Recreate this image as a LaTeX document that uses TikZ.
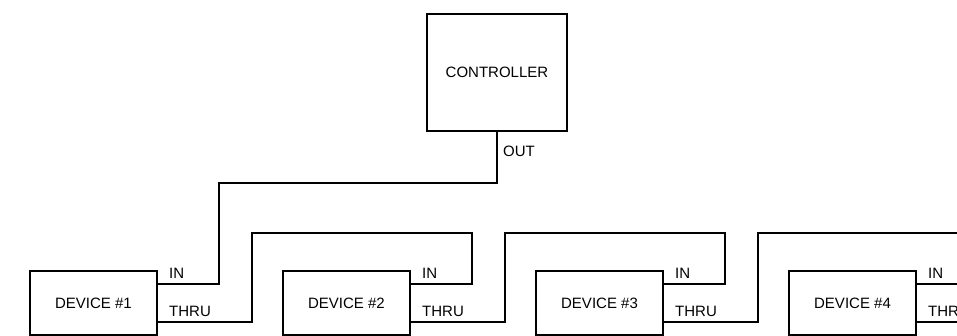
\documentclass[tikz,border=0pt]{standalone}
\usepackage{fontspec}
\setmainfont{Liberation Sans}
\usetikzlibrary{positioning}

\begin{document}
\begin{tikzpicture}[x=1pt, y=1pt, node distance=126pt,
    block/.style={rectangle, draw, line width=2.8pt, outer sep=0pt, minimum height=64pt, minimum width=127pt, align=center, font=\fontsize{15}{18}\selectfont},
    port/.style={inner sep=0pt, font=\fontsize{15}{18}\selectfont},
    wire/.style={line width=1.6pt}]
    \useasboundingbox (0,0) rectangle (957,336);
    \clip (0,0) rectangle (957,336);

    \node[block, minimum width=140pt, minimum height=117pt] (ctrl) at (497,263.5) {CONTROLLER};
    \node[block] (dev1) at (93.5,33) {DEVICE \#1};
    \node[block, right=of dev1] (dev2) {DEVICE \#2};
    \node[block, right=of dev2] (dev3) {DEVICE \#3};
    \node[block, right=of dev3] (dev4) {DEVICE \#4};

    \coordinate (bus) at (0,103);
    \coordinate (cbus) at (0,153);
    \coordinate (edge) at (957,0);

    \foreach \i in {1,...,4} {
        \coordinate (in\i) at ([yshift=19pt]dev\i.east);
        \coordinate (thru\i) at ([yshift=-19pt]dev\i.east);
        \coordinate (dn\i) at ([xshift=62pt]in\i);
        \coordinate (up\i) at ([xshift=95pt]thru\i);
        \node[port, anchor=base west] (inlbl\i) at ([xshift=12pt,yshift=5pt]in\i) {IN};
        \node[port, anchor=base west] (thrulbl\i) at ([xshift=12pt,yshift=5pt]thru\i) {THRU};
    }
    \node[port, anchor=west] (outlbl) at ([xshift=6pt,yshift=-20pt]ctrl.south) {OUT};

    \draw[wire] (ctrl.south) |- (dn1 |- cbus) |- (in1);
    \draw[wire] (thru1) -| (up1 |- bus) -| (dn2) -- (in2);
    \draw[wire] (thru2) -| (up2 |- bus) -| (dn3) -- (in3);
    \draw[wire] (thru3) -| (up3 |- bus) -- (edge |- bus);
    \draw[wire] (in4) -- (edge |- in4);
    \draw[wire] (thru4) -- (edge |- thru4);
\end{tikzpicture}
\end{document}
